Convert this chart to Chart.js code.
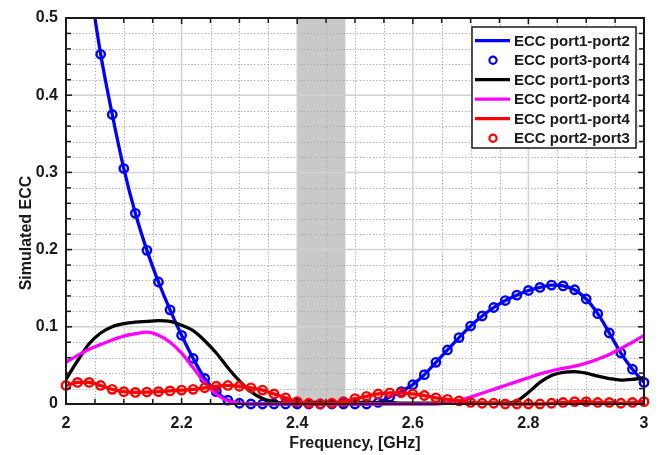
<!DOCTYPE html>
<html>
<head>
<meta charset="utf-8">
<script src="https://cdn.jsdelivr.net/npm/chart.js@4/dist/chart.umd.min.js"></script>
<style>
  html, body { margin: 0; padding: 0; background: #ffffff; }
  #wrap { width: 663px; height: 455px; }
</style>
</head>
<body>
<div id="wrap"><canvas id="ecc" width="663" height="455"></canvas></div>
<script>
// Frequency sweep (GHz), one sample every 20 MHz
const freqGHz = [
  2.00, 2.02, 2.04, 2.06, 2.08, 2.10, 2.12, 2.14, 2.16, 2.18,
  2.20, 2.22, 2.24, 2.26, 2.28, 2.30, 2.32, 2.34, 2.36, 2.38,
  2.40, 2.42, 2.44, 2.46, 2.48, 2.50, 2.52, 2.54, 2.56, 2.58,
  2.60, 2.62, 2.64, 2.66, 2.68, 2.70, 2.72, 2.74, 2.76, 2.78,
  2.80, 2.82, 2.84, 2.86, 2.88, 2.90, 2.92, 2.94, 2.96, 2.98, 3.00
];

// Simulated envelope correlation coefficients
const eccPort1Port2 = [
  0.750, 0.650, 0.550, 0.453, 0.375, 0.305, 0.247, 0.199, 0.158, 0.122,
  0.089, 0.059, 0.033, 0.016, 0.005, 0.001, 0.000, 0.000, 0.000, 0.000,
  0.000, 0.000, 0.000, 0.000, 0.000, 0.000, 0.000, 0.002, 0.009, 0.016,
  0.025, 0.038, 0.054, 0.070, 0.086, 0.101, 0.114, 0.125, 0.134, 0.141,
  0.147, 0.151, 0.154, 0.153, 0.148, 0.136, 0.117, 0.092, 0.066, 0.045, 0.028
];
const eccPort3Port4 = [
  0.750, 0.650, 0.550, 0.453, 0.375, 0.305, 0.247, 0.199, 0.158, 0.122,
  0.089, 0.059, 0.033, 0.016, 0.005, 0.001, 0.000, 0.000, 0.000, 0.000,
  0.000, 0.000, 0.000, 0.000, 0.000, 0.000, 0.000, 0.002, 0.009, 0.016,
  0.025, 0.038, 0.054, 0.070, 0.086, 0.101, 0.114, 0.125, 0.134, 0.141,
  0.147, 0.151, 0.154, 0.153, 0.148, 0.136, 0.117, 0.092, 0.066, 0.045, 0.028
];
const eccPort1Port3 = [
  0.032, 0.056, 0.078, 0.092, 0.100, 0.104, 0.106, 0.107, 0.108, 0.107,
  0.102, 0.095, 0.082, 0.066, 0.047, 0.030, 0.016, 0.007, 0.003, 0.001,
  0.001, 0.002, 0.002, 0.002, 0.002, 0.002, 0.002, 0.002, 0.002, 0.001,
  0.001, 0.001, 0.001, 0.001, 0.001, 0.001, 0.001, 0.001, 0.001, 0.004,
  0.015, 0.028, 0.037, 0.041, 0.042, 0.040, 0.036, 0.033, 0.031, 0.032, 0.034
];
const eccPort2Port4 = [
  0.054, 0.063, 0.071, 0.077, 0.083, 0.088, 0.091, 0.093, 0.089, 0.080,
  0.066, 0.047, 0.028, 0.013, 0.004, 0.001, 0.000, 0.000, 0.000, 0.000,
  0.000, 0.000, 0.000, 0.000, 0.000, 0.000, 0.000, 0.000, 0.000, 0.000,
  0.000, 0.000, 0.000, 0.001, 0.004, 0.009, 0.014, 0.019, 0.024, 0.029,
  0.034, 0.039, 0.043, 0.046, 0.049, 0.053, 0.058, 0.064, 0.072, 0.080, 0.089
];
const eccPort1Port4 = [
  0.024, 0.028, 0.028, 0.024, 0.019, 0.016, 0.015, 0.0155, 0.016, 0.017,
  0.018, 0.019, 0.021, 0.023, 0.024, 0.023, 0.021, 0.018, 0.013, 0.008,
  0.003, 0.001, 0.000, 0.001, 0.003, 0.007, 0.010, 0.013, 0.0145, 0.0145,
  0.013, 0.011, 0.008, 0.006, 0.004, 0.002, 0.001, 0.001, 0.000, 0.000,
  0.000, 0.000, 0.001, 0.002, 0.003, 0.003, 0.002, 0.002, 0.001, 0.002, 0.003
];
const eccPort2Port3 = [
  0.024, 0.028, 0.028, 0.024, 0.019, 0.016, 0.015, 0.0155, 0.016, 0.017,
  0.018, 0.019, 0.021, 0.023, 0.024, 0.023, 0.021, 0.018, 0.013, 0.008,
  0.003, 0.001, 0.000, 0.001, 0.003, 0.007, 0.010, 0.013, 0.0145, 0.0145,
  0.013, 0.011, 0.008, 0.006, 0.004, 0.002, 0.001, 0.001, 0.000, 0.000,
  0.000, 0.000, 0.001, 0.002, 0.003, 0.003, 0.002, 0.002, 0.001, 0.002, 0.003
];

// Axis ticks and the shaded 2.4 GHz ISM band
const xTickValues = [2, 2.2, 2.4, 2.6, 2.8, 3];
const xTickLabels = ['2', '2.2', '2.4', '2.6', '2.8', '3'];
const yTickValues = [0, 0.1, 0.2, 0.3, 0.4, 0.5];
const yTickLabels = ['0', '0.1', '0.2', '0.3', '0.4', '0.5'];
const ismBandGHz = [2.4, 2.4835];

const seriesLabels = [
  'ECC port1-port2', 'ECC port3-port4', 'ECC port1-port3',
  'ECC port2-port4', 'ECC port1-port4', 'ECC port2-port3'
];

const FONT = "'Liberation Sans', Arial, Helvetica, sans-serif";
const TEXT = '#1a1a1a';

const pts = arr => freqGHz.map((f, i) => ({ x: f, y: arr[i] }));

function lineSet(label, values, color, order) {
  return {
    label, data: pts(values), borderColor: color, backgroundColor: color,
    borderWidth: 3.3, pointRadius: 0, pointHoverRadius: 0,
    cubicInterpolationMode: 'monotone', order,
    clip: { left: 0, top: 0, right: 0, bottom: 4 }
  };
}
function markerSet(label, values, color, order) {
  return {
    label, data: pts(values), showLine: false, borderColor: color,
    backgroundColor: 'rgba(0,0,0,0)', pointStyle: 'circle',
    pointRadius: 4.2, pointBorderWidth: 2.4, pointHoverRadius: 4.2, order,
    clip: false
  };
}

const datasets = [
  lineSet(seriesLabels[0], eccPort1Port2, '#0000ff', 5),
  markerSet(seriesLabels[1], eccPort3Port4, '#0000ff', 4),
  lineSet(seriesLabels[2], eccPort1Port3, '#000000', 3),
  lineSet(seriesLabels[3], eccPort2Port4, '#ff00ff', 2),
  lineSet(seriesLabels[4], eccPort1Port4, '#ff0000', 1),
  markerSet(seriesLabels[5], eccPort2Port3, '#ff0000', 0)
];

// Band, grid, frame, inward ticks, axis titles and legend
const framePlugin = {
  id: 'frame',
  beforeDatasetsDraw(chart) {
    const { ctx, chartArea: a, scales: { x, y } } = chart;
    ctx.save();
    // shaded band
    ctx.fillStyle = '#c9c9c9';
    const bx0 = x.getPixelForValue(ismBandGHz[0]);
    const bx1 = x.getPixelForValue(ismBandGHz[1]);
    ctx.fillRect(bx0, a.top, bx1 - bx0, a.bottom - a.top);

    // minor dotted grid
    ctx.strokeStyle = '#a8a8a8';
    ctx.lineWidth = 1;
    ctx.setLineDash([1.3, 2]);
    for (let k = 1; k < 20; k++) {
      if (k % 4 === 0) continue;
      const px = Math.round(x.getPixelForValue(2 + k * 0.05)) + 0.5;
      ctx.beginPath(); ctx.moveTo(px, a.top); ctx.lineTo(px, a.bottom); ctx.stroke();
    }
    for (let k = 1; k < 25; k++) {
      if (k % 5 === 0) continue;
      const py = Math.round(y.getPixelForValue(k * 0.02)) + 0.5;
      ctx.beginPath(); ctx.moveTo(a.left, py); ctx.lineTo(a.right, py); ctx.stroke();
    }
    // major solid grid
    ctx.setLineDash([]);
    ctx.strokeStyle = '#d2d2d2';
    ctx.lineWidth = 1.5;
    xTickValues.slice(1, -1).forEach(v => {
      const px = x.getPixelForValue(v);
      ctx.beginPath(); ctx.moveTo(px, a.top); ctx.lineTo(px, a.bottom); ctx.stroke();
    });
    yTickValues.slice(1, -1).forEach(v => {
      const py = y.getPixelForValue(v);
      ctx.beginPath(); ctx.moveTo(a.left, py); ctx.lineTo(a.right, py); ctx.stroke();
    });
    ctx.restore();
  },
  afterDatasetsDraw(chart) {
    const { ctx, chartArea: a, scales: { x, y } } = chart;
    ctx.save();
    // inward ticks on all four sides
    ctx.strokeStyle = '#1a1a1a';
    ctx.lineWidth = 1.5;
    const tickX = (px, len) => {
      ctx.beginPath(); ctx.moveTo(px, a.bottom); ctx.lineTo(px, a.bottom - len); ctx.stroke();
      ctx.beginPath(); ctx.moveTo(px, a.top); ctx.lineTo(px, a.top + len); ctx.stroke();
    };
    const tickY = (py, len) => {
      ctx.beginPath(); ctx.moveTo(a.left, py); ctx.lineTo(a.left + len, py); ctx.stroke();
      ctx.beginPath(); ctx.moveTo(a.right, py); ctx.lineTo(a.right - len, py); ctx.stroke();
    };
    for (let k = 1; k < 20; k++) tickX(x.getPixelForValue(2 + k * 0.05), k % 4 === 0 ? 6 : 5);
    for (let k = 1; k < 25; k++) tickY(y.getPixelForValue(k * 0.02), k % 5 === 0 ? 6 : 5);

    // frame
    ctx.lineWidth = 2;
    ctx.strokeRect(a.left, a.top, a.right - a.left, a.bottom - a.top);

    // axis titles
    ctx.fillStyle = TEXT;
    ctx.font = 'bold 16px ' + FONT;
    ctx.textAlign = 'center';
    ctx.textBaseline = 'middle';
    ctx.fillText('Frequency, [GHz]', (a.left + a.right) / 2, 444);
    ctx.save();
    ctx.translate(27, 233);
    ctx.rotate(-Math.PI / 2);
    ctx.fillText('Simulated ECC', 0, 0);
    ctx.restore();

    // legend
    const lx = 472, ly = 27, lw = 164, lh = 121;
    ctx.fillStyle = '#ffffff';
    ctx.fillRect(lx, ly, lw, lh);
    ctx.strokeStyle = '#1a1a1a';
    ctx.lineWidth = 1.5;
    ctx.strokeRect(lx, ly, lw, lh);
    ctx.font = 'bold 15px ' + FONT;
    ctx.textAlign = 'left';
    datasets.forEach((ds, i) => {
      const cy = ly + 13.7 + i * 19.5;
      if (ds.showLine === false) {
        ctx.strokeStyle = ds.borderColor;
        ctx.lineWidth = 2.2;
        ctx.beginPath(); ctx.arc(lx + 21, cy, 3.6, 0, Math.PI * 2); ctx.stroke();
      } else {
        ctx.strokeStyle = ds.borderColor;
        ctx.lineWidth = 3.3;
        ctx.beginPath(); ctx.moveTo(lx + 3, cy); ctx.lineTo(lx + 38, cy); ctx.stroke();
      }
      ctx.fillStyle = TEXT;
      ctx.fillText(ds.label, lx + 42, cy + 1);
    });
    ctx.restore();
  }
};

new Chart(document.getElementById('ecc'), {
  type: 'line',
  data: { datasets },
  options: {
    responsive: false,
    animation: false,
    devicePixelRatio: 1,
    layout: { padding: { top: 18, right: 19, left: 0, bottom: 0 } },
    plugins: { legend: { display: false }, tooltip: { enabled: false }, title: { display: false } },
    scales: {
      x: {
        type: 'linear', min: 2, max: 3,
        grid: { display: false, drawTicks: false },
        border: { display: false },
        afterFit: s => { s.height = 51; },
        afterBuildTicks: s => { s.ticks = xTickValues.map(v => ({ value: v })); },
        ticks: {
          padding: 10, color: TEXT, maxRotation: 0, autoSkip: false,
          font: { family: FONT, size: 16, weight: 'bold' },
          callback: v => xTickLabels[xTickValues.indexOf(v)] ?? ''
        }
      },
      y: {
        type: 'linear', min: 0, max: 0.5,
        grid: { display: false, drawTicks: false },
        border: { display: false },
        afterFit: s => { s.width = 66; },
        afterBuildTicks: s => { s.ticks = yTickValues.map(v => ({ value: v })); },
        ticks: {
          padding: 8, color: TEXT, autoSkip: false,
          font: { family: FONT, size: 16, weight: 'bold' },
          callback: v => yTickLabels[yTickValues.indexOf(v)] ?? ''
        }
      }
    }
  },
  plugins: [framePlugin]
});
</script>
</body>
</html>
